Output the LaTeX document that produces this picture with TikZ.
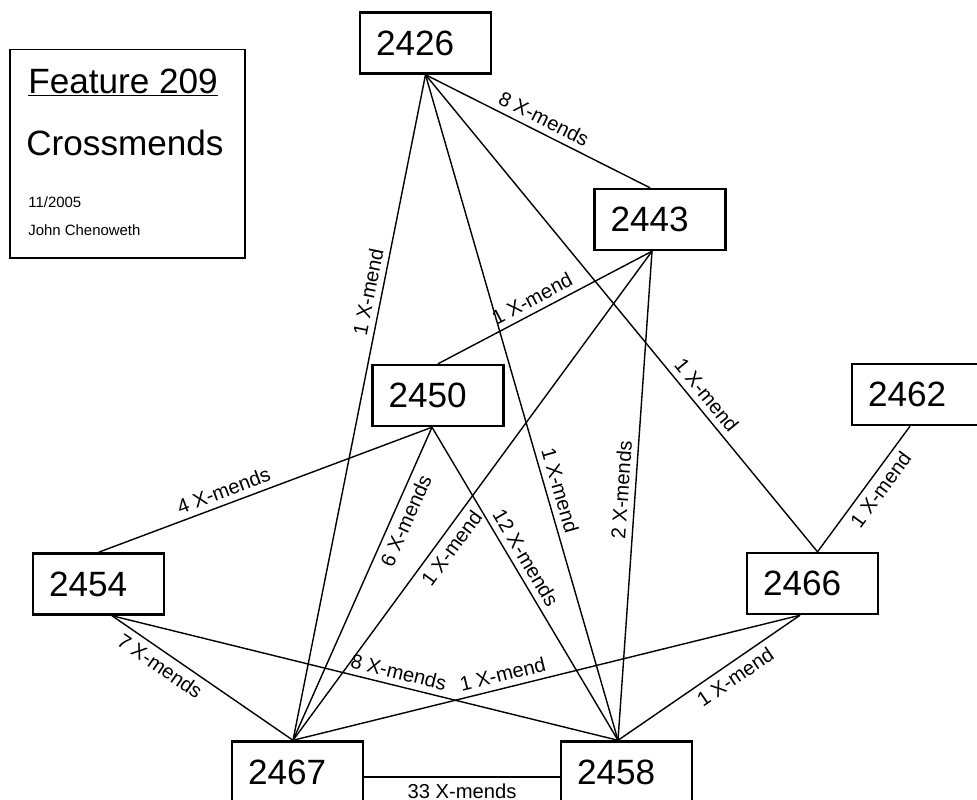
\documentclass[tikz,border=0pt]{standalone}
\usepackage{fontspec}
\setmainfont{Liberation Sans}
\usepackage{tikz}
\usepackage{xcolor}
\tikzset{
    mend-box/.style = {draw=black, fill=white, line width=1.4pt, rectangle, minimum width=2.62cm, minimum height=1.22cm, inner xsep=0.32cm, text width=1.98cm, align=left, font=\fontsize{20}{24}\selectfont},
    mend-edge/.style = {draw=black, line width=0.8pt},
    mend-label/.style = {sloped, font=\fontsize{11.5}{13}\selectfont},
    legend-box/.style = {draw=black, line width=0.6pt, rectangle, minimum width=4.7cm, minimum height=4.18cm},
    legend-big/.style = {anchor=base west, inner sep=0pt, font=\fontsize{20}{24}\selectfont},
    legend-small/.style = {anchor=base west, inner sep=0pt, font=\fontsize{8.5}{10}\selectfont},
}

\begin{document}
\begin{tikzpicture}[x=0.02cm, y=-0.02cm]
\useasboundingbox (0,0) rectangle (977,799);
\clip (0,0) rectangle (977,799);

% legend
\node [legend-box] (legend) at (127.5,153.5) {};
\node [legend-big] (title) at (28,93) {\underline{Feature 209}};
\node [legend-big] (subtitle) at (26,155) {Crossmends};
\node [legend-small] (date) at (28,207) {11/2005};
\node [legend-small] (author) at (28,235) {John Chenoweth};

% features
\node [mend-box] (b2426) at (425.5,43) {2426};
\node [mend-box] (b2443) at (660,219.5) {2443};
\node [mend-box] (b2450) at (438,395.5) {2450};
\node [mend-box] (b2462) at (917.5,394.5) {2462};
\node [mend-box] (b2454) at (98.5,584) {2454};
\node [mend-box] (b2466) at (812.5,583.5) {2466};
\node [mend-box] (b2467) at (297.5,772) {2467};
\node [mend-box] (b2458) at (626.5,772) {2458};

% crossmends
\draw [mend-edge] (b2426.south) -- node[mend-label, pos=0.5, above] {8 X-mends} ([xshift=-0.2cm]b2443.north);
\draw [mend-edge] (b2426.south) -- node[mend-label, pos=0.33, above] {1 X-mend} ([xshift=-0.09cm]b2467.north);
\draw [mend-edge] (b2426.south) -- node[mend-label, pos=0.63, above] {1 X-mend} ([xshift=-0.17cm]b2458.north);
\draw [mend-edge] (b2426.south) -- node[mend-label, pos=0.69, above] {1 X-mend} ([xshift=0.1cm]b2466.north);
\draw [mend-edge] ([xshift=-0.16cm]b2443.south) -- node[mend-label, pos=0.53, above] {1 X-mend} (b2450.north);
\draw [mend-edge] ([xshift=-0.16cm]b2443.south) -- node[mend-label, pos=0.59, below] {1 X-mend} ([xshift=-0.09cm]b2467.north);
\draw [mend-edge] ([xshift=-0.16cm]b2443.south) -- node[mend-label, pos=0.49, above] {2 X-mends} ([xshift=-0.17cm]b2458.north);
\draw [mend-edge] ([xshift=-0.12cm]b2450.south) -- node[mend-label, pos=0.61, above] {4 X-mends} (b2454.north);
\draw [mend-edge] ([xshift=-0.12cm]b2450.south) -- node[mend-label, pos=0.28, below] {6 X-mends} ([xshift=-0.09cm]b2467.north);
\draw [mend-edge] ([xshift=-0.12cm]b2450.south) -- node[mend-label, pos=0.44, above] {12 X-mends} ([xshift=-0.17cm]b2458.north);
\draw [mend-edge] ([xshift=-0.15cm]b2462.south) -- node[mend-label, pos=0.44, below] {1 X-mend} ([xshift=0.1cm]b2466.north);
\draw [mend-edge] ([xshift=0.27cm]b2454.south) -- node[mend-label, pos=0.31, below] {7 X-mends} ([xshift=-0.09cm]b2467.north);
\draw [mend-edge] ([xshift=0.27cm]b2454.south) -- node[mend-label, pos=0.56, above] {8 X-mends} ([xshift=-0.17cm]b2458.north);
\draw [mend-edge] ([xshift=-0.25cm]b2466.south) -- node[mend-label, pos=0.58, above] {1 X-mend} ([xshift=-0.09cm]b2467.north);
\draw [mend-edge] ([xshift=-0.25cm]b2466.south) -- node[mend-label, pos=0.40, below] {1 X-mend} ([xshift=-0.17cm]b2458.north);
\draw [mend-edge] ([yshift=-0.1cm]b2467.east) -- node[mend-label, pos=0.5, below] {33 X-mends} ([yshift=-0.1cm]b2458.west);
\end{tikzpicture}
\end{document}
